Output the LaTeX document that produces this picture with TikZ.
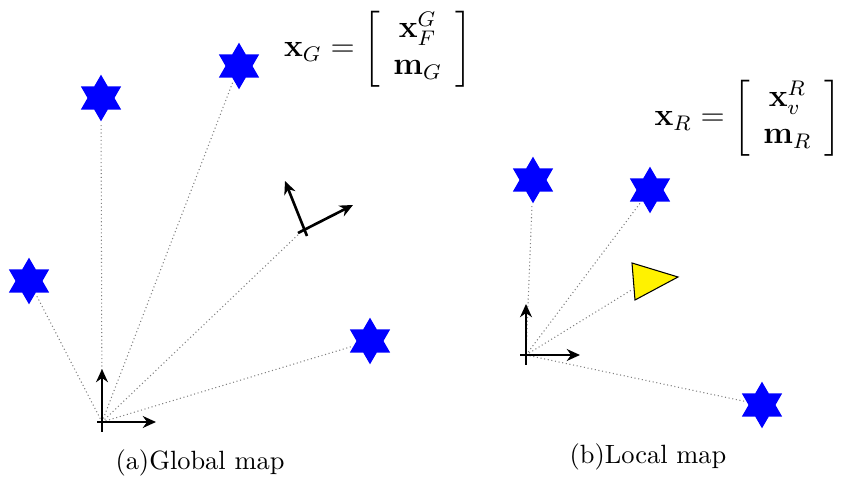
\documentclass[tikz,border=0pt]{standalone}
\usepackage{amsmath,amssymb}
\usetikzlibrary{shapes.geometric,arrows.meta}
\tikzset{
    landmark/.style={star, star points=6, star point ratio=1.73, fill=blue, draw=none, minimum size=0.62cm, inner sep=0pt},
    ray/.style={densely dotted, gray, thin},
    axis/.style={->, line width=1pt},
    stateeq/.style={font=\large, inner sep=0pt},
}
\begin{document}
\begin{tikzpicture}[>={Stealth[length=5pt, width=4.5pt]}, thick, x=0.0133cm, y=-0.0133cm]
    \useasboundingbox (0,0) rectangle (845,478);

    % global map
    \coordinate (o1) at (102,422);
    \coordinate (o1x0) at (97,422);
    \coordinate (o1x1) at (156,422);
    \coordinate (o1y0) at (102,432);
    \coordinate (o1y1) at (102,369);
    \coordinate (f) at (303,230);
    \coordinate (fx0) at (298,233);
    \coordinate (fx1) at (353,205);
    \coordinate (fy0) at (307,236);
    \coordinate (fy1) at (285,181);
    \node[landmark] (g1) at (101,98) {};
    \node[landmark] (g2) at (239,66) {};
    \node[landmark] (g3) at (29,281) {};
    \node[landmark] (g4) at (370,341) {};

    \draw[ray] (o1) -- (g1);
    \draw[ray] (o1) -- (g2);
    \draw[ray] (o1) -- (g3);
    \draw[ray] (o1) -- (g4);
    \draw[ray] (o1) -- (f);
    \draw[axis] (o1x0) -- (o1x1);
    \draw[axis] (o1y0) -- (o1y1);
    \draw[axis] (fx0) -- (fx1);
    \draw[axis] (fy0) -- (fy1);

    \node[stateeq] (eqG) at (378,49) {$\mathbf{x}_G = \left[\begin{array}{c} \mathbf{x}_F^G \\ \mathbf{m}_G \end{array}\right]$};
    \node (capA) at (200,463) {(a)Global map};

    % local map
    \coordinate (o2) at (526,355);
    \coordinate (o2x0) at (520,355);
    \coordinate (o2x1) at (580,355);
    \coordinate (o2y0) at (526,365);
    \coordinate (o2y1) at (526,304);
    \coordinate (t1) at (632,263);
    \coordinate (t2) at (678,277);
    \coordinate (t3) at (635,300);
    \coordinate (tl) at (633,289);
    \node[landmark] (r1) at (533,180) {};
    \node[landmark] (r2) at (650,190) {};
    \node[landmark] (r3) at (762,405) {};

    \draw[ray] (o2) -- (r1);
    \draw[ray] (o2) -- (r2);
    \draw[ray] (o2) -- (r3);
    \draw[ray] (o2) -- (tl);
    \filldraw[fill=yellow, draw=black, thin] (t1) -- (t2) -- (t3) -- cycle;
    \draw[axis] (o2x0) -- (o2x1);
    \draw[axis] (o2y0) -- (o2y1);

    \node[stateeq] (eqR) at (748,118) {$\mathbf{x}_R = \left[\begin{array}{c} \mathbf{x}_v^R \\ \mathbf{m}_R \end{array}\right]$};
    \node (capB) at (648,457) {(b)Local map};
\end{tikzpicture}
\end{document}
